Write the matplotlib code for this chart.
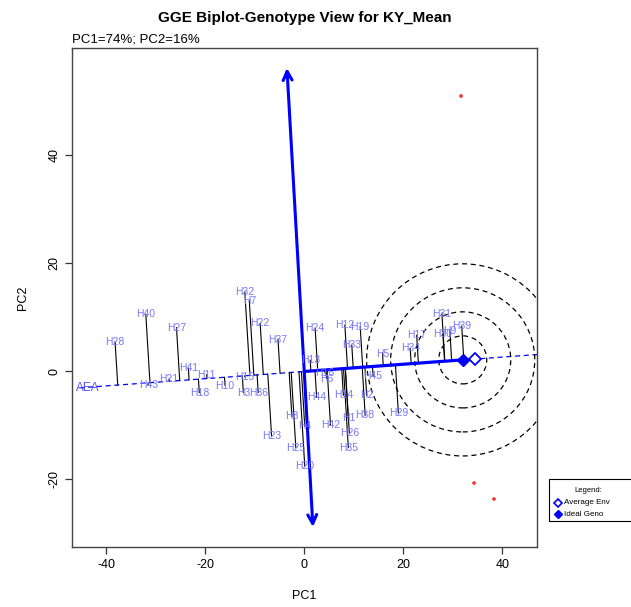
import numpy as np
import matplotlib
matplotlib.use("Agg")
import matplotlib.pyplot as plt
from matplotlib.patches import Ellipse, Rectangle

plt.rcParams['font.family'] = ['Liberation Sans', 'DejaVu Sans']
plt.rcParams['axes.unicode_minus'] = False

# genotype scores (PC1, PC2)
genos = ['H28', 'H40', 'H43', 'H27', 'H21', 'H41', 'H11', 'H18', 'H10', 'H32',
         'H7', 'H22', 'H37', 'H15', 'H3', 'H36', 'H23', 'H8', 'H4', 'H25',
         'H20', 'H24', 'H13', 'H16', 'H6', 'H44', 'H42', 'H12', 'H19', 'H33',
         'H14', 'H1', 'H26', 'H35', 'H45', 'H2', 'H38', 'H5', 'H29', 'H34',
         'H17', 'H31', 'H30', 'H9', 'H39']
pc1 = [-38.2, -32.0, -31.5, -25.8, -27.3, -23.4, -19.7, -21.2, -16.0, -12.0,
       -11.1, -8.9, -5.3, -12.0, -12.3, -9.3, -6.6, -2.5, 0.1, -1.7,
       0.1, 2.2, 1.2, 4.2, 4.5, 2.5, 5.3, 8.2, 11.3, 9.6,
       7.9, 8.9, 9.1, 8.9, 13.9, 12.6, 12.3, 15.8, 19.0, 21.4,
       22.7, 27.8, 28.0, 29.4, 31.8]
pc2 = [5.5, 10.6, -2.5, 8.1, -1.4, 0.6, -0.6, -3.9, -2.6, 14.7,
       13.1, 8.9, 5.9, -1.0, -3.9, -3.9, -11.9, -8.3, -10.1, -14.1,
       -17.5, 8.0, 2.1, -0.3, -1.3, -4.8, -9.9, 8.6, 8.3, 4.9,
       -4.4, -8.7, -11.4, -14.1, -0.9, -4.4, -8.1, 3.3, -7.6, 4.3,
       6.7, 10.7, 6.9, 7.5, 8.4]

# environments
env_pc1 = [31.6, 34.2, 38.3]
env_pc2 = [51.1, -20.6, -23.6]

avg_env = (34.5, 2.3)
ideal = (32.0, 2.15)
atc_top = (-3.5, 56.2)
atc_bottom = (1.75, -28.8)
circle_radii = [4.85, 9.7, 14.55, 19.4]

legend_labels = ['Average Env', 'Ideal Geno']

xlim = (-46.9, 47.0)
ylim = (-32.5, 59.9)

W, H = 631, 607
fig = plt.figure(figsize=(W / 100, H / 100), dpi=100)
ax_l, ax_r, ax_t, ax_b = 72, 537, 48, 547
ax = fig.add_axes([ax_l / W, 1 - ax_b / H, (ax_r - ax_l) / W, (ax_b - ax_t) / H])
ax.set_xlim(*xlim)
ax.set_ylim(*ylim)

lab_col = '#7676ff'

# average environment axis (dashed through origin)
u = np.array(avg_env) / np.hypot(*avg_env)
slope = u[1] / u[0]
ax.plot([xlim[0] + 1.5, 0], [slope * (xlim[0] + 1.5), 0], color='blue', lw=0.9,
        dashes=(4, 3), zorder=2)
ax.plot([ideal[0], xlim[1]], [slope * ideal[0], slope * xlim[1]], color='blue',
        lw=0.9, dashes=(4, 3), zorder=2)
ax.plot([0, ideal[0]], [0, ideal[1]], color='blue', lw=2.3, zorder=4,
        solid_capstyle='butt')

# ordinate with arrows
for end in (atc_top, atc_bottom):
    ax.annotate('', xy=end, xytext=(0, 0),
                arrowprops=dict(arrowstyle='->', color='blue', lw=2.2,
                                mutation_scale=16, shrinkA=0, shrinkB=0),
                zorder=4)

# projections of genotypes onto AEA
for x, y in zip(pc1, pc2):
    d = x * u[0] + y * u[1]
    ax.plot([x, d * u[0]], [y, d * u[1]], color='black', lw=0.8, zorder=3)

for g, x, y in zip(genos, pc1, pc2):
    ax.text(x, y, g, color=lab_col, fontsize=7.5, ha='center', va='center',
            zorder=5)

ax.text(-43.7, -3.1, 'AEA', color='#5050ff', fontsize=8.5, ha='center',
        va='center', zorder=5)

# concentric circles around ideal genotype (round on screen)
kx = (ax_r - ax_l) / (xlim[1] - xlim[0])
ky = (ax_b - ax_t) / (ylim[1] - ylim[0])
for r in circle_radii:
    ax.add_patch(Ellipse(ideal, 2 * r, 2 * r * kx / ky, fill=False,
                         edgecolor='black', lw=0.9, linestyle=(0, (4, 3)),
                         zorder=2))

ax.plot(env_pc1, env_pc2, '+', color='#ff4040', ms=3.5, mew=1.3, zorder=3)
ax.plot(*avg_env, 'D', mfc='white', mec='blue', ms=6, mew=1.3, zorder=6)
ax.plot(*ideal, 'D', color='blue', ms=6, zorder=6)

for s in ax.spines.values():
    s.set_color('#444444')
    s.set_linewidth(1.0)
ax.set_xticks([-40, -20, 0, 20, 40])
ax.set_yticks([-20, 0, 20, 40])
ax.tick_params(direction='out', length=5, width=0.9, labelsize=9, color='#333333')
for t in ax.get_yticklabels():
    t.set_rotation(90)
    t.set_va('center')
ax.set_xlabel('PC1', fontsize=9, labelpad=14)
ax.set_ylabel('PC2', fontsize=9, labelpad=14)

fig.text(305 / W, 1 - 18 / H, 'GGE Biplot-Genotype View for KY_Mean',
         fontsize=11, fontweight='bold', ha='center', va='center')
fig.text(ax_l / W, 1 - 40 / H, 'PC1=74%; PC2=16%', fontsize=9.5, ha='left',
         va='center')

# legend box, running off the right edge like the reference
fig.patches.append(Rectangle((549 / W, 1 - 521 / H), 100 / W, 42 / H,
                             transform=fig.transFigure, fill=False,
                             edgecolor='black', lw=0.8))
fig.text(588 / W, 1 - 490 / H, 'Legend:', fontsize=5.5, ha='center',
         va='center')
fig.lines.append(plt.Line2D([558 / W], [1 - 503 / H], marker='D', mfc='white',
                            mec='blue', ms=4, mew=1.2, ls='none',
                            transform=fig.transFigure))
fig.lines.append(plt.Line2D([558 / W], [1 - 514 / H], marker='D', color='blue',
                            ms=4, ls='none', transform=fig.transFigure))
fig.text(564 / W, 1 - 503 / H, legend_labels[0], fontsize=5.8, ha='left',
         va='center')
fig.text(564 / W, 1 - 514 / H, legend_labels[1], fontsize=5.8, ha='left',
         va='center')

fig.savefig('out.png', dpi=100)
